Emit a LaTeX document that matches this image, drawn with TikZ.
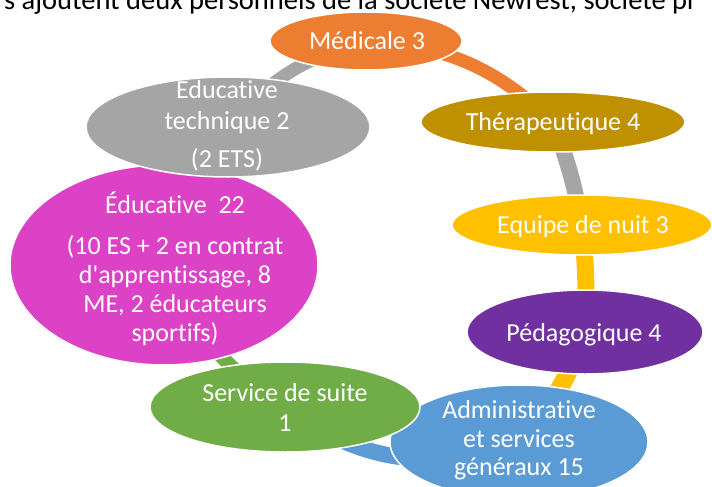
\documentclass[tikz,border=0pt]{standalone}
\usepackage{fontspec}
\setmainfont{Carlito}[Ligatures={TeXOff,NoCommon}]
\usetikzlibrary{shapes.geometric}
\pgfdeclarelayer{bg}
\pgfsetlayers{bg,main}
\definecolor{cOrange}{HTML}{ED7D31}
\definecolor{cGray}{HTML}{A5A5A5}
\definecolor{cGold}{HTML}{BF9000}
\definecolor{cYellow}{HTML}{FFC000}
\definecolor{cPurple}{HTML}{7030A0}
\definecolor{cBlue}{HTML}{5B9BD5}
\definecolor{cGreen}{HTML}{70AD47}
\definecolor{cMagenta}{HTML}{DC42C6}
\begin{document}
\begin{tikzpicture}[x=1pt,y=1pt,
  ell/.style 2 args={ellipse, draw=white, line width=1.5pt, inner sep=0pt,
    minimum width=2*#1, minimum height=2*#2},
  lbl/.style={anchor=base, inner sep=0pt, text=white, font=\fontsize{26}{29}\selectfont},
  arcband/.style={line width=#1}]
\clip (0,0) rectangle (712,-487);
\node[anchor=base west, inner sep=0pt, font=\fontsize{28.5}{30}\selectfont] (head) at (4,-10)
  {s'ajoutent deux personnels de la société Newrest, société pr};
% ellipses
\node[ell={96}{29}, fill=cOrange] (med) at (366,-41) {};
\node[ell={132}{30}, fill=cGold] (ther) at (553,-122) {};
\node[ell={130}{30}, fill=cYellow] (nuit) at (582,-225) {};
\node[ell={118}{42}, fill=cPurple] (peda) at (585,-332) {};
\node[ell={129}{57}, fill=cBlue] (adm) at (519,-442) {};
\node[ell={135}{45}, fill=cGreen] (serv) at (285,-407) {};
\node[ell={154}{100}, fill=cMagenta] (educ) at (164,-265) {};
\node[ell={142}{50}, fill=cGray] (et) at (228,-127) {};
% texts
\node[lbl] (t-med) at (367,-49) {Médicale 3};
\node[lbl] (t-ther) at (553,-130) {Thérapeutique 4};
\node[lbl] (t-nuit) at (583,-233) {Equipe de nuit 3};
\node[lbl] (t-peda) at (584,-341) {Pédagogique 4};
\node[lbl] (t-adm1) at (519,-418) {Administrative};
\node[lbl] (t-adm2) at (519,-447) {et services};
\node[lbl] (t-adm3) at (519,-475) {généraux 15};
\node[lbl] (t-serv1) at (285,-401) {Service de suite};
\node[lbl] (t-serv2) at (285,-431) {1};
\node[lbl] (t-educ1) at (175,-213) {Éducative~~22};
\node[lbl] (t-educ2) at (175,-254) {(10 ES + 2 en contrat};
\node[lbl] (t-educ3) at (175,-283) {d'apprentissage, 8};
\node[lbl] (t-educ4) at (175,-312) {ME, 2 éducateurs};
\node[lbl] (t-educ5) at (175,-341) {sportifs)};
\node[lbl] (t-et1) at (227,-99) {Educative};
\node[lbl] (t-et2) at (227,-129) {technique 2};
\node[lbl] (t-et3) at (227,-167) {(2 ETS)};
% connectors
\begin{pgfonlayer}{bg}
\draw[arcband=13, cGray] (et.center) to[bend left=17] (med.center);
\draw[arcband=13, cOrange] (med.center) to[bend left=20] (ther.center);
\draw[arcband=16, cGray] (ther.center) to[bend left=5] (nuit.center);
\draw[arcband=17, cYellow] (nuit.center) to[bend left=4] (peda.center);
\draw[arcband=18, cYellow] (peda.center) to[bend left=11] (adm.center);
\draw[arcband=16, cBlue] (adm.center) to[bend left=28] (serv.center);
\draw[arcband=14, cGreen] (serv.center) to[bend left=17] (educ.center);
\end{pgfonlayer}
\end{tikzpicture}
\end{document}
